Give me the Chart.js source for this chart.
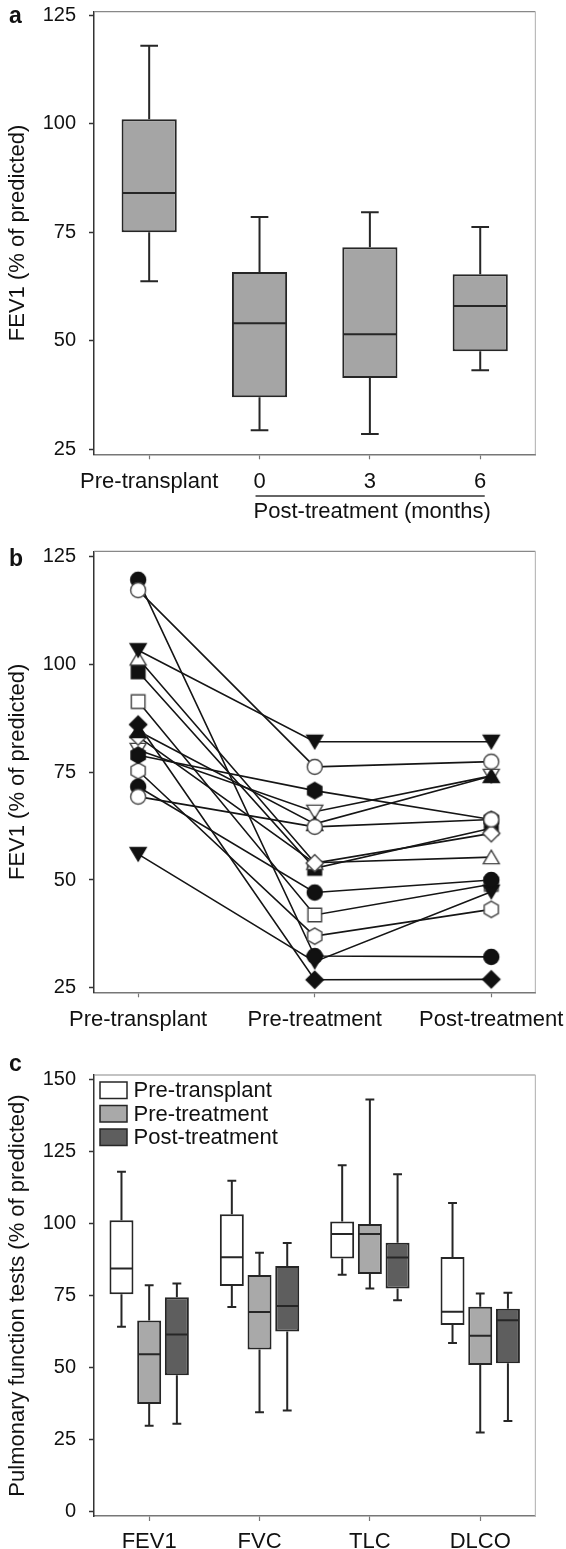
<!DOCTYPE html>
<html>
<head>
<meta charset="utf-8">
<title>FEV1 e testes de função pulmonar</title>
<script src="https://cdn.jsdelivr.net/npm/chart.js@4.4.0/dist/chart.umd.min.js"></script>
<style>
  html, body { margin: 0; padding: 0; background: #fff; }
  #wrap { position: relative; width: 566px; height: 1549px; overflow: hidden; }
  #wrap canvas { position: absolute; left: 0; top: -40px; }
</style>
</head>
<body>
<div id="wrap">
  <canvas id="chartA" width="606" height="1629"></canvas>
  <canvas id="chartB" width="606" height="1629"></canvas>
  <canvas id="chartC" width="606" height="1629"></canvas>
</div>
<script>
// Painel a - FEV1 antes do transplante e após o tratamento
const aLabels = ["Pre-transplant", "0", "3", "6"];
const aMin = [63.7, 29.4, 28.5, 43.2];
const aQ1 = [75, 37, 41.4, 47.6];
const aMedian = [84, 54, 51.5, 58];
const aQ3 = [101, 65.8, 71.5, 65.3];
const aMax = [117.9, 78.5, 79.6, 76.2];
const aTicks = [25, 50, 75, 100, 125];

// Painel b - valores individuais (um paciente por posição)
const bLabels = ["Pre-transplant", "Pre-treatment", "Post-treatment"];
const bPreTransplant = [117.1, 69.3, 86, 84.5, 83.2, 103.2, 101.3, 98.2, 78.9, 80.1, 119.5, 71.6, 56, 91.3, 75.3];
const bPreTreatment = [76.2, 62.3, 26.9, 63, 53.9, 82, 54, 52.7, 70.7, 65.8, 32.4, 47.1, 31.1, 41.9, 37];
const bPostTreatment = [77.4, 64, 27, 74.1, 60.8, 82, 55.3, 62, 64, 74.1, 32.2, 50, 47.3, 49, 43.2];
const bTicks = [25, 50, 75, 100, 125];
// estilo dos marcadores de cada paciente
const bShapes = ["circle", "circle", "diamond", "triUp", "diamond", "triDown", "triUp", "square",
  "hexagon", "triDown", "circle", "circle", "triDown", "square", "hexagon"];
const bFilled = [false, false, true, true, false, true, false, true, true, false, true, true, true, false, false];

// Painel c - testes de função pulmonar (Pre-transplant, Pre-treatment, Post-treatment)
const cLabels = ["FEV1", "FVC", "TLC", "DLCO"];
const cSeries = ["Pre-transplant", "Pre-treatment", "Post-treatment"];
const cMin = [
  [64.2, 71.0, 82.2, 58.5],
  [29.8, 34.5, 77.4, 27.5],
  [30.5, 35.1, 73.4, 31.5],
];
const cQ1 = [
  [75.4, 78.3, 87.8, 64.8],
  [37.4, 56.3, 82.5, 50.9],
  [47.3, 62.5, 77.4, 51.5],
];
const cMedian = [
  [84.4, 88.3, 96.3, 69.4],
  [54.6, 69.3, 96.3, 61.0],
  [61.5, 71.4, 88.2, 66.4],
];
const cQ3 = [
  [101.1, 103.2, 100.7, 88.4],
  [66.3, 82.1, 99.8, 71.1],
  [74.4, 85.2, 93.3, 70.4],
];
const cMax = [
  [117.9, 114.8, 120.2, 107.1],
  [78.6, 89.8, 143.0, 75.7],
  [79.2, 93.2, 117.1, 76.0],
];
const cTicks = [0, 25, 50, 75, 100, 125, 150];
const cColors = ["#ffffff", "#a9a9a9", "#5e5e5e"];

// Configurações gerais
const OFF = 40; // os canvas começam 40px acima da página
const CANVAS_W = 606;
const CANVAS_H = 1629;
const FONT = "'Liberation Sans', Arial, Helvetica, sans-serif";
const LINE = "#262626";

Chart.defaults.font.family = FONT;
Chart.defaults.color = "#111";
Chart.defaults.animation = false;
Chart.defaults.events = [];
Chart.defaults.plugins.legend.display = false;
Chart.defaults.plugins.tooltip.enabled = false;

// área do gráfico em coordenadas da página
function layoutPara(top, bottom) {
  return {
    padding: {
      left: 0,
      top: top + OFF,
      right: CANVAS_W - 535.4,
      bottom: CANVAS_H - (bottom + OFF) - 60,
    },
  };
}

function eixoY(min, max, ticks, titulo) {
  return {
    min: min,
    max: max,
    afterFit: (s) => { s.width = 94; },
    afterBuildTicks: (s) => { s.ticks = ticks.map((v) => ({ value: v })); },
    grid: { drawOnChartArea: false, tickLength: 5, tickWidth: 1.5, color: "#333" },
    border: { color: "#333", width: 1.5 },
    ticks: { padding: 13, font: { size: 20 }, color: "#111" },
    title: { display: true, text: titulo, font: { size: 22 }, padding: { top: 5, bottom: 0 }, color: "#111" },
  };
}

function eixoX(extra) {
  return Object.assign({
    afterFit: (s) => { s.height = 60; },
    grid: { drawOnChartArea: false, offset: false, tickLength: 5, tickWidth: 1.2, color: "#777" },
    border: { color: "#777", width: 1.5 },
    ticks: { padding: 9, font: { size: 22 }, color: "#111", autoSkip: false, maxRotation: 0 },
  }, extra);
}

// Bigodes e mediana das caixas (usa as barras flutuantes [Q1, Q3])
const boxPlugin = {
  id: "boxWhiskers",
  afterDatasetsDraw(chart, args, opts) {
    const ctx = chart.ctx;
    const y = chart.scales.y;
    chart.data.datasets.forEach((ds, di) => {
      if (!ds.stats) return;
      const meta = chart.getDatasetMeta(di);
      meta.data.forEach((bar, i) => {
        const x = bar.x;
        const half = bar.width / 2;
        const cap = (bar.width * opts.cap) / 2;
        const yMin = y.getPixelForValue(ds.stats.min[i]);
        const yQ1 = y.getPixelForValue(ds.data[i][0]);
        const yMed = y.getPixelForValue(ds.stats.median[i]);
        const yQ3 = y.getPixelForValue(ds.data[i][1]);
        const yMax = y.getPixelForValue(ds.stats.max[i]);
        ctx.save();
        ctx.strokeStyle = LINE;
        ctx.lineWidth = opts.width;
        ctx.beginPath();
        ctx.moveTo(x - half + 1, yMed);
        ctx.lineTo(x + half - 1, yMed);
        ctx.moveTo(x, yQ3);
        ctx.lineTo(x, yMax);
        ctx.moveTo(x - cap, yMax);
        ctx.lineTo(x + cap, yMax);
        ctx.moveTo(x, yQ1);
        ctx.lineTo(x, yMin);
        ctx.moveTo(x - cap, yMin);
        ctx.lineTo(x + cap, yMin);
        ctx.stroke();
        ctx.restore();
      });
    });
  },
};

// Borda superior e direita da área do gráfico
const framePlugin = {
  id: "frame",
  beforeDatasetsDraw(chart) {
    const { ctx, chartArea: a } = chart;
    ctx.save();
    ctx.lineWidth = 1.2;
    ctx.strokeStyle = "#888";
    ctx.beginPath();
    ctx.moveTo(a.left, a.top);
    ctx.lineTo(a.right, a.top);
    ctx.stroke();
    ctx.strokeStyle = "#bbb";
    ctx.beginPath();
    ctx.moveTo(a.right, a.top);
    ctx.lineTo(a.right, a.bottom);
    ctx.stroke();
    ctx.restore();
  },
};

// Letra do painel, subtítulo dos meses e legenda do painel c
const extrasPlugin = {
  id: "extras",
  afterDraw(chart, args, opts) {
    const ctx = chart.ctx;
    const a = chart.chartArea;
    ctx.save();
    ctx.fillStyle = "#111";
    ctx.textBaseline = "middle";
    if (opts.letter) {
      ctx.font = "bold 23px " + FONT;
      ctx.textAlign = "left";
      ctx.fillText(opts.letter, 9, opts.letterY + OFF);
    }
    if (opts.months) {
      const x = chart.scales.x;
      const x0 = x.getPixelForValue(1) - 4;
      const x1 = x.getPixelForValue(3) + 4.5;
      ctx.strokeStyle = "#333";
      ctx.lineWidth = 1.5;
      ctx.beginPath();
      ctx.moveTo(x0, a.bottom + 41.7);
      ctx.lineTo(x1, a.bottom + 41.7);
      ctx.stroke();
      ctx.font = "22px " + FONT;
      ctx.textAlign = "center";
      ctx.fillText(opts.months, (x0 + x1) / 2 + 2, a.bottom + 57.5);
    }
    if (opts.legend) {
      ctx.font = "22px " + FONT;
      ctx.textAlign = "left";
      chart.data.datasets.forEach((ds, i) => {
        const yc = a.top + 15 + i * 23.5;
        ctx.fillStyle = ds.backgroundColor;
        ctx.fillRect(a.left + 6, yc - 8, 27, 16.5);
        ctx.strokeStyle = LINE;
        ctx.lineWidth = 1.5;
        ctx.strokeRect(a.left + 6, yc - 8, 27, 16.5);
        ctx.fillStyle = "#111";
        ctx.fillText(ds.label, a.left + 39.6, yc + 1);
      });
    }
    ctx.restore();
  },
};

// Marcadores desenhados num canvas pequeno (usados como pointStyle)
function makeMarker(shape, filled) {
  const c = document.createElement("canvas");
  c.width = 22;
  c.height = 22;
  const g = c.getContext("2d");
  g.translate(11, 11);
  g.beginPath();
  if (shape === "circle") {
    g.arc(0, 0, 7.5, 0, Math.PI * 2);
  } else if (shape === "square") {
    g.rect(-6.8, -6.8, 13.6, 13.6);
  } else if (shape === "diamond") {
    g.moveTo(0, -8.6); g.lineTo(8.6, 0); g.lineTo(0, 8.6); g.lineTo(-8.6, 0); g.closePath();
  } else if (shape === "triUp") {
    g.moveTo(0, -6.8); g.lineTo(8, 6.6); g.lineTo(-8, 6.6); g.closePath();
  } else if (shape === "triDown") {
    g.moveTo(0, 6.8); g.lineTo(8, -6.6); g.lineTo(-8, -6.6); g.closePath();
  } else if (shape === "hexagon") {
    for (let k = 0; k < 6; k++) {
      const ang = -Math.PI / 2 + (k * Math.PI) / 3;
      const px = Math.cos(ang) * 8.2;
      const py = Math.sin(ang) * 8.2;
      if (k === 0) g.moveTo(px, py); else g.lineTo(px, py);
    }
    g.closePath();
  }
  g.fillStyle = filled ? "#111" : "#fff";
  g.fill();
  g.lineWidth = 1.4;
  g.strokeStyle = filled ? "#111" : "#444";
  g.stroke();
  return c;
}

// ---------- Painel a ----------
new Chart(document.getElementById("chartA"), {
  type: "bar",
  data: {
    labels: aLabels,
    datasets: [{
      data: aQ1.map((q, i) => [q, aQ3[i]]),
      stats: { min: aMin, median: aMedian, max: aMax },
      backgroundColor: "#a5a5a5",
      borderColor: LINE,
      borderWidth: 2,
      borderSkipped: false,
      categoryPercentage: 1,
      barPercentage: 0.5,
    }],
  },
  options: {
    responsive: false,
    devicePixelRatio: 1,
    layout: layoutPara(11.7, 454.3),
    scales: {
      x: eixoX({ offset: true }),
      y: eixoY(23.85, 125.76, aTicks, "FEV1 (% of predicted)"),
    },
    plugins: {
      boxWhiskers: { cap: 0.32, width: 2 },
      extras: { letter: "a", letterY: 16.5, months: "Post-treatment (months)" },
    },
  },
  plugins: [framePlugin, boxPlugin, extrasPlugin],
});

// ---------- Painel b ----------
const bLines = [];
const bMarkers = [];
bPreTransplant.forEach((v, i) => {
  const pts = [
    { x: 0, y: v },
    { x: 1, y: bPreTreatment[i] },
    { x: 2, y: bPostTreatment[i] },
  ];
  bLines.push({
    type: "line",
    data: pts,
    showLine: true,
    borderColor: "#151515",
    borderWidth: 1.6,
    pointRadius: 0,
    tension: 0,
    order: 1,
  });
  bMarkers.push({
    type: "scatter",
    data: pts,
    showLine: false,
    pointStyle: makeMarker(bShapes[i], bFilled[i]),
    pointRadius: 8,
    order: 0,
  });
});

new Chart(document.getElementById("chartB"), {
  type: "scatter",
  data: { datasets: bMarkers.concat(bLines) },
  options: {
    responsive: false,
    devicePixelRatio: 1,
    layout: layoutPara(551.3, 992.3),
    scales: {
      x: eixoX({
        type: "linear",
        min: -0.25,
        max: 2.25,
        afterBuildTicks: (s) => { s.ticks = bLabels.map((l, i) => ({ value: i })); },
        ticks: {
          padding: 9, font: { size: 22 }, color: "#111", autoSkip: false, maxRotation: 0,
          callback: (v) => bLabels[v],
        },
      }),
      y: eixoY(24.0, 126.1, bTicks, "FEV1 (% of predicted)"),
    },
    plugins: {
      extras: { letter: "b", letterY: 560 },
    },
  },
  plugins: [framePlugin, extrasPlugin],
});

// ---------- Painel c ----------
new Chart(document.getElementById("chartC"), {
  type: "bar",
  data: {
    labels: cLabels,
    datasets: cSeries.map((nome, s) => ({
      label: nome,
      data: cQ1[s].map((q, i) => [q, cQ3[s][i]]),
      stats: { min: cMin[s], median: cMedian[s], max: cMax[s] },
      backgroundColor: cColors[s],
      borderColor: LINE,
      borderWidth: 2,
      borderSkipped: false,
      categoryPercentage: 0.753,
      barPercentage: 0.866,
    })),
  },
  options: {
    responsive: false,
    devicePixelRatio: 1,
    layout: layoutPara(1075, 1516),
    scales: {
      x: eixoX({ offset: true, ticks: { padding: 8, font: { size: 22 }, color: "#111", autoSkip: false, maxRotation: 0 } }),
      y: eixoY(-1.49, 151.5, cTicks, "Pulmonary function tests (% of predicted)"),
    },
    plugins: {
      boxWhiskers: { cap: 0.37, width: 2 },
      extras: { letter: "c", letterY: 1065, legend: true },
    },
  },
  plugins: [framePlugin, boxPlugin, extrasPlugin],
});
</script>
</body>
</html>
